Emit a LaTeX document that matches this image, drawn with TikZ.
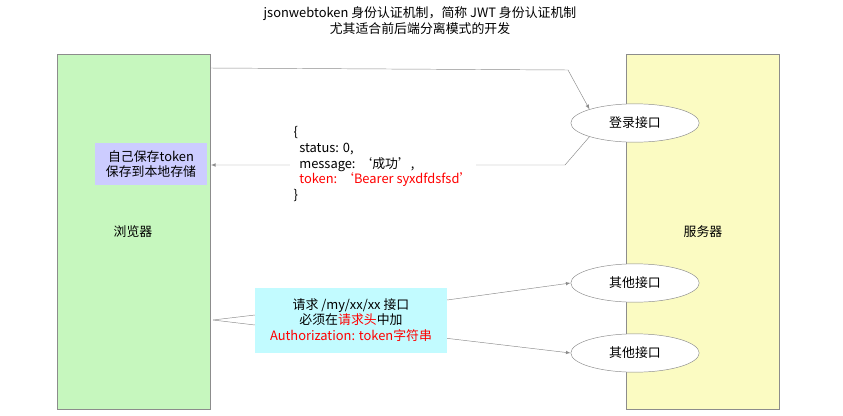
\documentclass[tikz,border=0pt]{standalone}
\usepackage{fontspec}
\setmainfont{Noto Sans CJK SC}
\usetikzlibrary{shapes.geometric}
\definecolor{browsergreen}{HTML}{C6F7BE}
\definecolor{serveryellow}{HTML}{FBFBC2}
\definecolor{savepurple}{HTML}{CCCCFF}
\definecolor{reqcyan}{HTML}{C2FBFF}
\definecolor{linegray}{HTML}{8C8C8C}

\tikzset{
  side/.style={draw=linegray,minimum width=4.6cm,minimum height=10.65cm},
  api/.style={draw=linegray,fill=white,ellipse,minimum width=3.85cm,minimum height=1.15cm},
  flow/.style={draw=linegray,-latex}
}

\begin{document}
\begin{tikzpicture}[x=0.03cm,y=-0.03cm,font=\fontsize{11}{13.5}\selectfont]
            \useasboundingbox (0,0) rectangle (843,415);
            \node[align=center] (title) at (420,21) {jsonwebtoken 身份认证机制，简称 JWT 身份认证机制\\尤其适合前后端分离模式的开发};
            
            \node[side,fill=browsergreen] (browser) at (134,232) {};
            \node[side,fill=serveryellow] (server) at (703,232) {};
            \node at (133,232) {浏览器};
            \node at (703,232) {服务器};
            
            \node[api] (login) at (635,123) {登录接口};
            \node[api] (other1) at (635,283) {其他接口};
            \node[api] (other2) at (635,353) {其他接口};
            
            \coordinate (c1) at (568,70);
            \coordinate (c2) at (565,165);
            \coordinate (c3) at (213,320);
            \draw[flow] (browser.east |- 0,68) -- (c1) -- (login.north west);
            \draw[flow] (login.south west) -- (c2) -- (browser.east |- c2);
            
            \node[fill=white,align=left,inner sep=3pt] (resp) at (383,164) {\{\\
              \ \ status: 0,\\
              \ \ message: ‘成功’,\\
              \ \ \textcolor{red}{token: ‘Bearer syxdfdsfsd’}\\
              \}};
            \node[fill=savepurple,align=center,minimum width=3.35cm,minimum height=1.25cm] (save) at (151,164) {自己保存token\\保存到本地存储};
            
            \node[fill=reqcyan,align=center,minimum width=5.75cm,minimum height=1.95cm] (req) at (351,320) {请求 /my/xx/xx 接口\\必须在\textcolor{red}{请求头}中加\\\textcolor{red}{Authorization: token字符串}};
            \draw[linegray] (c3) -- ([yshift=-0.15cm]req.west);
            \draw[linegray] (c3) -- ([yshift=0.15cm]req.west);
            \draw[flow] ([yshift=0.6cm]req.east) -- (other1.west);
            \draw[flow] ([yshift=-0.55cm]req.east) -- (other2.west);
        \end{tikzpicture}
\end{document}
